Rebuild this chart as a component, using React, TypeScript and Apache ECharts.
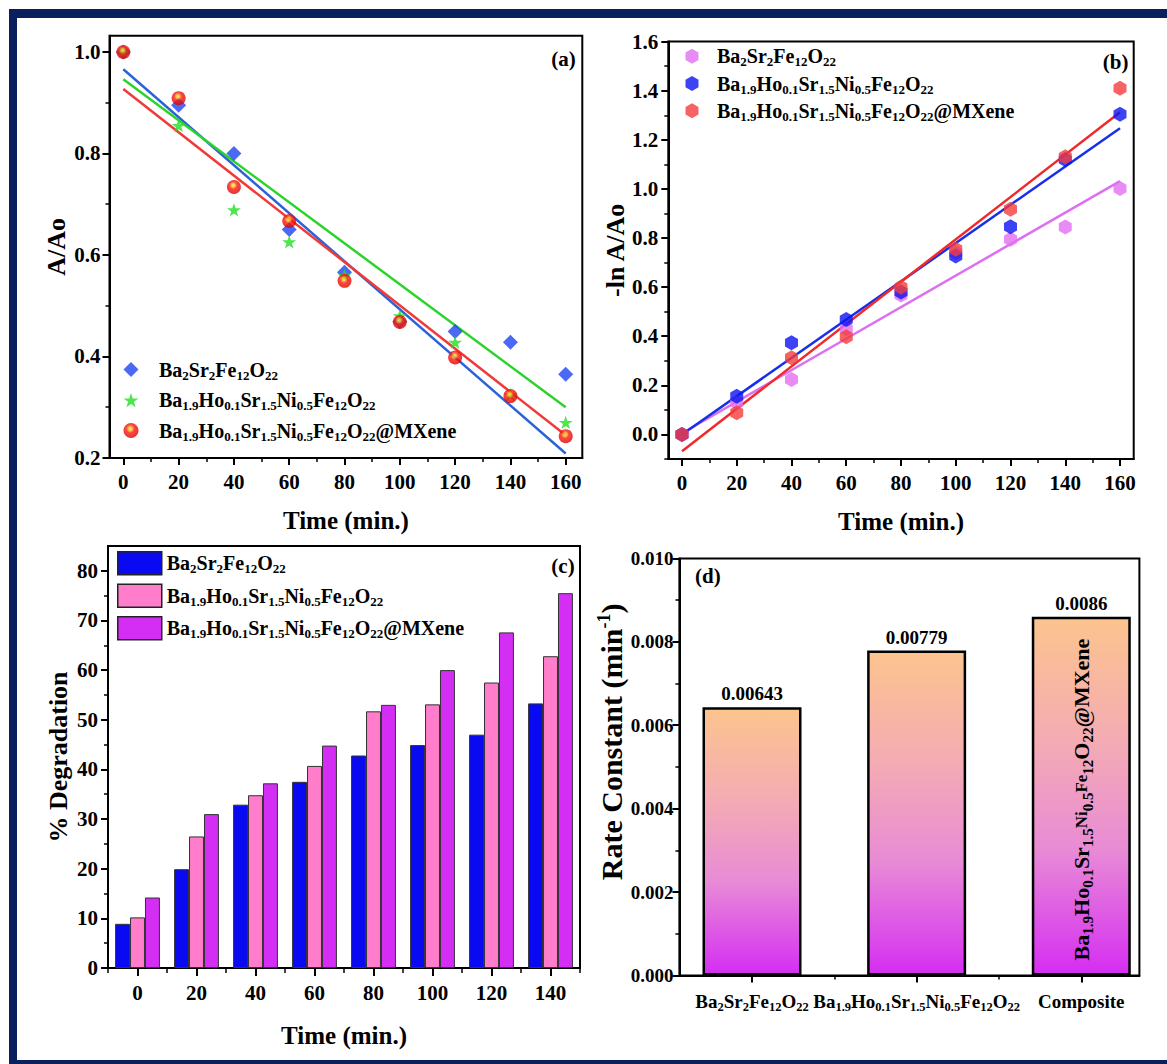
import React, { useEffect, useRef } from "react";
import * as echarts from "echarts";

const FONT = "'Liberation Serif', 'Times New Roman', Times, serif";

// ---------- data ----------
const timeAB = [0, 20, 40, 60, 80, 100, 120, 140, 160];
const aBlue = [1.0, 0.895, 0.8, 0.65, 0.566, 0.469, 0.449, 0.428, 0.365];
const aGreen = [1.0, 0.855, 0.689, 0.626, 0.56, 0.48, 0.428, 0.325, 0.27];
const aRed = [1.0, 0.909, 0.734, 0.667, 0.549, 0.468, 0.398, 0.322, 0.243];
const fitX = [0, 160];
const aFitBlue = [0.966, 0.209];
const aFitGreen = [0.946, 0.3];
const aFitRed = [0.927, 0.245];

const bViolet = [0.0, 0.13, 0.224, 0.43, 0.568, 0.74, 0.795, 0.845, 1.002];
const bBlue = [0.0, 0.156, 0.373, 0.468, 0.58, 0.727, 0.846, 1.12, 1.304];
const bRed = [0.0, 0.088, 0.312, 0.398, 0.599, 0.754, 0.917, 1.131, 1.41];
const bFitViolet = [0.005, 1.032];
const bFitBlue = [0.0, 1.247];
const bFitRed = [-0.068, 1.312];

const timeC = ["0", "20", "40", "60", "80", "100", "120", "140"];
const cBlue = [8.9, 19.9, 32.9, 37.5, 42.8, 44.9, 47.0, 53.3];
const cPink = [10.2, 26.5, 34.8, 40.7, 51.7, 53.1, 57.5, 62.8];
const cPurple = [14.2, 31.0, 37.2, 44.8, 53.0, 60.0, 67.6, 75.5];

const dPos = [1, 2, 3];
const dRate = [0.00643, 0.00779, 0.0086];

// tick labels
const xTicksAB = [0, 20, 40, 60, 80, 100, 120, 140, 160];
const xMinorAB = [10, 30, 50, 70, 90, 110, 130, 150];
const yTicksA = [0.2, 0.4, 0.6, 0.8, 1.0];
const yMinorA = [0.3, 0.5, 0.7, 0.9];
const yTicksB = [0, 0.2, 0.4, 0.6, 0.8, 1.0, 1.2, 1.4, 1.6];
const yMinorB = [-0.1, 0.1, 0.3, 0.5, 0.7, 0.9, 1.1, 1.3, 1.5];
const yTicksC = [0, 10, 20, 30, 40, 50, 60, 70, 80];
const yMinorC = [5, 15, 25, 35, 45, 55, 65, 75];
const yTicksD = [0, 0.002, 0.004, 0.006, 0.008, 0.01];
const yMinorD = [0.001, 0.003, 0.005, 0.007, 0.009];
const xMinorD = [1.5, 2.5];

// labels (rich text)
const F1 = "{m|Ba}{s|2}{m|Sr}{s|2}{m|Fe}{s|12}{m|O}{s|22}";
const F2 = "{m|Ba}{s|1.9}{m|Ho}{s|0.1}{m|Sr}{s|1.5}{m|Ni}{s|0.5}{m|Fe}{s|12}{m|O}{s|22}";
const F3 = F2 + "{m|@MXene}";
const FROT = "{m|Ba}{s|1.9}{m|Ho}{s|0.1}{m|Sr}{s|1.5}{u|Ni}{s|0.5}{u|Fe}{s|12}{m|O}{s|22}{m|@MXene}";
const legendText: Record<string, string> = {
  a1: F1, a2: F2, a3: F3,
  b1: F1, b2: F2, b3: F3,
  c1: F1, c2: F2, c3: F3,
};
const dNames = [F1, F2, "{m|Composite}"];

const STAR = "path://M50,0 L61.8,35.1 L98.1,35.1 L68.8,56.8 L79.4,91 L50,70.3 L20.6,91 L31.2,56.8 L1.9,35.1 L38.2,35.1 Z";
const HEX = "path://M50,0 L93.3,25 L93.3,75 L50,100 L6.7,75 L6.7,25 Z";
const DIAMOND = "path://M50,0 L100,50 L50,100 L0,50 Z";

function rich(main: number, sub: number, lh: number, gap = 0) {
  return {
    g: { width: gap, lineHeight: lh },
    m: { fontFamily: FONT, fontWeight: "bold", fontSize: main, color: "#000", lineHeight: lh },
    s: { fontFamily: FONT, fontWeight: "bold", fontSize: sub, color: "#000", lineHeight: sub + 2, verticalAlign: "bottom" },
    u: { fontFamily: FONT, fontWeight: "bold", fontSize: sub + 2, color: "#000", lineHeight: lh, verticalAlign: "middle" },
  };
}

const labelStyle = { fontFamily: FONT, fontWeight: "bold", fontSize: 21, color: "#000" };
const nameStyle = { fontFamily: FONT, fontWeight: "bold", fontSize: 25, color: "#000" };
const lineBlack = { color: "#000", width: 2 };

function mainVal(gridIndex: number, min: number, max: number, ticks: number[], fmt: any, margin: number, position: string, name?: string, nameGap?: number, nameTS?: any) {
  return {
    type: "value", gridIndex, min, max, position,
    axisLine: { show: true, onZero: false, lineStyle: lineBlack },
    axisTick: { show: true, customValues: ticks, length: 7, lineStyle: lineBlack },
    axisLabel: { show: true, customValues: ticks, formatter: fmt, margin, ...labelStyle },
    splitLine: { show: false },
    name: name || "", nameLocation: "middle", nameGap: nameGap || 0,
    nameTextStyle: nameTS || nameStyle,
  };
}
function minorVal(gridIndex: number, min: number, max: number, ticks: number[], position: string) {
  return {
    type: "value", gridIndex, min, max, position,
    axisLine: { show: false, onZero: false },
    axisTick: { show: true, customValues: ticks, length: 4, lineStyle: { color: "#000", width: 1.5 } },
    axisLabel: { show: false },
    splitLine: { show: false },
  };
}
const pts = (xs: number[], ys: number[]) => xs.map((x, i) => [x, ys[i]]);

function buildOption() {
  const redSphere = {
    type: "radial", x: 0.45, y: 0.38, r: 0.6,
    colorStops: [
      { offset: 0, color: "#fff45a" },
      { offset: 0.22, color: "#ffb020" },
      { offset: 0.45, color: "#f81c10" },
      { offset: 1, color: "#e00000" },
    ],
  };
  const gridBase = { show: true, borderColor: "#000", borderWidth: 2, backgroundColor: "transparent", containLabel: false };
  const scatter = (name: string, ax: number, data: any, symbol: string, size: any, color: any) => ({
    type: "scatter", name, xAxisIndex: ax, yAxisIndex: ax, data, symbol, symbolSize: size,
    symbolKeepAspect: true,
    itemStyle: { color }, z: 4,
  });
  const fit = (name: string, ax: number, ys: number[], color: string) => ({
    type: "line", name, xAxisIndex: ax, yAxisIndex: ax, data: pts(fitX, ys), symbol: "none",
    lineStyle: { color, width: 2.5 }, z: 3,
  });
  const bar = (name: string, data: number[], color: string) => ({
    type: "bar", name, xAxisIndex: 4, yAxisIndex: 4, data, barGap: "0%", barCategoryGap: "24%",
    itemStyle: { color, borderColor: "#333", borderWidth: 1 },
  });
  const legendCommon = {
    orient: "vertical", padding: 0, selectedMode: false,
  };

  return {
    animation: false,
    backgroundColor: "#ffffff",
    textStyle: { fontFamily: FONT },
    grid: [
      { ...gridBase, left: 109.5, top: 35.7, width: 472.8, height: 422.3 },
      { ...gridBase, left: 668.3, top: 41.6, width: 465.4, height: 417.4 },
      { ...gridBase, left: 108, top: 546, width: 472, height: 422 },
      { ...gridBase, left: 679.4, top: 558.4, width: 460, height: 417 },
    ],
    xAxis: [
      mainVal(0, -5, 166, xTicksAB, (v: number) => String(v), 13, "bottom", "Time (min.)", 50),
      minorVal(0, -5, 166, xMinorAB, "bottom"),
      mainVal(1, -5, 165, xTicksAB, (v: number) => String(v), 13, "bottom", "Time (min.)", 50),
      minorVal(1, -5, 165, xMinorAB, "bottom"),
      {
        type: "category", gridIndex: 2, data: timeC, position: "bottom",
        axisLine: { show: true, onZero: false, lineStyle: lineBlack },
        axisTick: { show: true, alignWithLabel: true, length: 8, lineStyle: lineBlack },
        axisLabel: { margin: 14, ...labelStyle },
        splitLine: { show: false },
        name: "Time (min.)", nameLocation: "middle", nameGap: 55, nameTextStyle: nameStyle,
      },
      {
        type: "category", gridIndex: 2, data: timeC, position: "bottom",
        axisLine: { show: false, onZero: false },
        axisTick: { show: true, length: 5, lineStyle: { color: "#000", width: 1.5 } },
        axisLabel: { show: false },
        splitLine: { show: false },
      },
      {
        type: "value", gridIndex: 3, min: 0.559, max: 3.353, position: "bottom",
        axisLine: { show: true, onZero: false, lineStyle: lineBlack },
        axisTick: { show: true, customValues: dPos, length: 7, lineStyle: lineBlack },
        axisLabel: {
          show: true, customValues: dPos, margin: 14,
          formatter: (v: number) => dNames[Math.round(v) - 1] || "",
          rich: rich(19, 12.5, 24),
        },
        splitLine: { show: false },
      },
      minorVal(3, 0.559, 3.353, xMinorD, "bottom"),
    ],
    yAxis: [
      mainVal(0, 0.2, 1.032, yTicksA, (v: number) => v.toFixed(1), 9, "left", "A/Ao", 40, { ...nameStyle, fontSize: 26 }),
      minorVal(0, 0.2, 1.032, yMinorA, "left"),
      mainVal(1, -0.1, 1.6, yTicksB, (v: number) => v.toFixed(1), 10, "left", "-ln A/Ao", 39, { ...nameStyle, fontSize: 26 }),
      minorVal(1, -0.1, 1.6, yMinorB, "left"),
      mainVal(2, 0, 85, yTicksC, (v: number) => String(v), 10, "left", "% Degradation", 37, { ...nameStyle, fontSize: 26 }),
      minorVal(2, 0, 85, yMinorC, "left"),
      {
        ...mainVal(3, 0, 0.01, yTicksD, (v: number) => v.toFixed(3), 6, "left", "{m|Rate Constant (min}{u|-1}{m|)}", 44, {
          padding: [0, 0, 0, 50],
          rich: {
            m: { fontFamily: FONT, fontWeight: "bold", fontSize: 30, color: "#000", lineHeight: 34 },
            u: { fontFamily: FONT, fontWeight: "bold", fontSize: 18, color: "#000", lineHeight: 18, verticalAlign: "top" },
          },
        }),
        axisLabel: { show: true, customValues: yTicksD, formatter: (v: number) => v.toFixed(3), margin: 6, ...labelStyle, fontSize: 19 },
      },
      minorVal(3, 0, 0.01, yMinorD, "left"),
    ],
    legend: [
      {
        ...legendCommon, data: ["a1", "a2", "a3"], left: 123.5, top: 359.6, itemWidth: 15, itemHeight: 15, itemGap: 8.5,
        formatter: (n: string) => "{g|}" + (legendText[n] || n),
        textStyle: { rich: rich(20, 13, 24, 15.5) },
      },
      {
        ...legendCommon, data: ["b1", "b2", "b3"], left: 685.5, top: 46.3, itemWidth: 15, itemHeight: 15, itemGap: 5.2,
        formatter: (n: string) => "{g|}" + (legendText[n] || n),
        textStyle: { rich: rich(20, 13, 24, 12.5) },
      },
      {
        ...legendCommon, data: ["c1", "c2", "c3"], left: 117, top: 551, itemWidth: 44, itemHeight: 23, itemGap: 8,
        icon: "rect", itemStyle: { borderColor: "#222", borderWidth: 1.5 },
        formatter: (n: string) => legendText[n] || n,
        textStyle: { rich: rich(20, 13, 24) },
      },
    ],
    series: [
      // (a)
      fit("fa1", 0, aFitBlue, "#2a62d8"),
      fit("fa2", 0, aFitGreen, "#2bd42b"),
      fit("fa3", 0, aFitRed, "#f03a3a"),
      scatter("a1", 0, pts(timeAB, aBlue), DIAMOND, 15, "#1d45f2"),
      scatter("a2", 0, pts(timeAB, aGreen), STAR, 14, "#22e022"),
      scatter("a3", 0, pts(timeAB, aRed), "circle", 14, redSphere),
      // (b)
      fit("fb1", 2, bFitViolet, "#dd70f0"),
      fit("fb2", 2, bFitBlue, "#1630e8"),
      fit("fb3", 2, bFitRed, "#f02a2a"),
      scatter("b1", 2, pts(timeAB, bViolet), HEX, 15, "#e46ef2"),
      scatter("b2", 2, pts(timeAB, bBlue), HEX, 15, "#0b14f2"),
      scatter("b3", 2, pts(timeAB, bRed), HEX, 15, "#f43c3c"),
      // (c)
      bar("c1", cBlue, "#0a0af2"),
      bar("c2", cPink, "#ff7dcb"),
      bar("c3", cPurple, "#d42ef5"),
      // (d)
      {
        type: "bar", name: "d1", xAxisIndex: 6, yAxisIndex: 6, data: pts(dPos, dRate), barWidth: 99, barGap: "-100%",
        itemStyle: {
          color: {
            type: "linear", x: 0, y: 0, x2: 0, y2: 1,
            colorStops: [
              { offset: 0, color: "#fcc48e" },
              { offset: 0.35, color: "#f4abb4" },
              { offset: 0.65, color: "#e88bd6" },
              { offset: 1, color: "#d52ef2" },
            ],
          },
          borderColor: "#000", borderWidth: 2.5,
        },
        label: {
          show: true, position: "top", distance: 4,
          formatter: (p: any) => String(p.value[1]),
          fontFamily: FONT, fontWeight: "bold", fontSize: 19, color: "#000",
        },
        z: 2,
      },
      {
        type: "bar", name: "d2", xAxisIndex: 6, yAxisIndex: 6, data: [[dPos[2], dRate[2]]], barWidth: 99, barGap: "-100%",
        itemStyle: { color: "rgba(0,0,0,0)", borderWidth: 0 },
        label: {
          show: true, position: "insideBottom", distance: 15, rotate: 90, align: "left", verticalAlign: "middle",
          formatter: () => FROT,
          rich: rich(22, 15, 28),
        },
        z: 3,
      },
    ],
    graphic: [
      { type: "rect", shape: { x: 9, y: 9, width: 1158, height: 9 }, style: { fill: "#0b1f5c" }, silent: true },
      { type: "rect", shape: { x: 9, y: 9, width: 8, height: 1055 }, style: { fill: "#0b1f5c" }, silent: true },
      { type: "rect", shape: { x: 9, y: 1060, width: 1158, height: 4 }, style: { fill: "#0b1f5c" }, silent: true },
      ...[
        ["(a)", 563.6, 59],
        ["(b)", 1115.7, 61.6],
        ["(c)", 563, 566],
        ["(d)", 707.9, 575.6],
      ].map(([t, x, y]) => ({
        type: "text", x, y, silent: true,
        style: { text: t, fontFamily: FONT, fontWeight: "bold", fontSize: 21, fill: "#000", align: "center", verticalAlign: "middle" },
      })),
    ],
  };
}

export default function App() {
  const ref = useRef<HTMLDivElement>(null);
  useEffect(() => {
    const chart = echarts.init(ref.current!, null, { renderer: "svg" });
    chart.setOption(buildOption() as any);
    return () => chart.dispose();
  }, []);
  return (
    <div
      ref={ref}
      style={{ position: "absolute", left: 0, top: 0, width: 1167, height: 1064, background: "#fff" }}
    />
  );
}
